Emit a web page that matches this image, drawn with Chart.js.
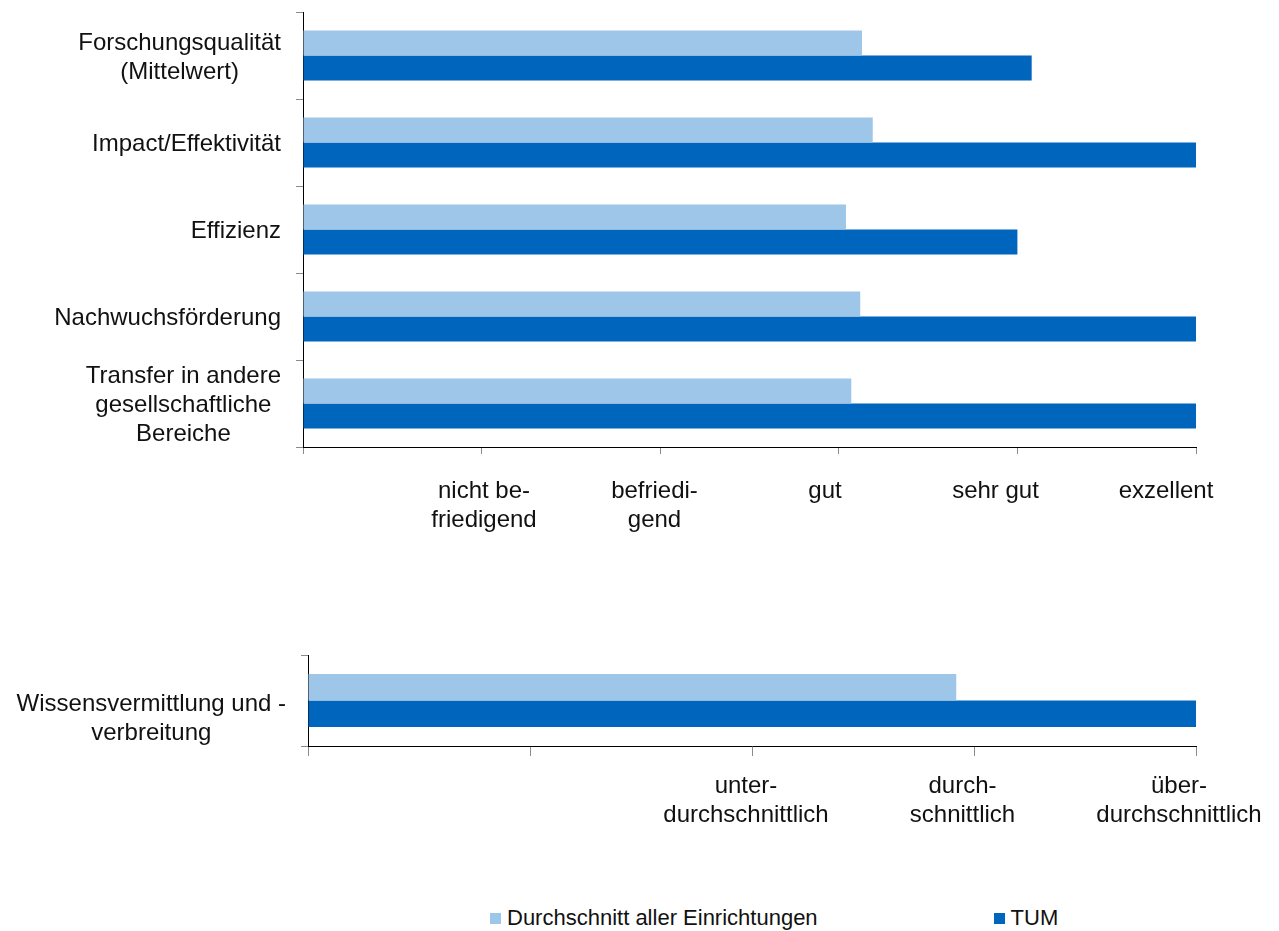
<!DOCTYPE html>
<html lang="de">
<head>
<meta charset="utf-8">
<title>Bewertung TUM</title>
<script src="https://cdn.jsdelivr.net/npm/chart.js@4/dist/chart.umd.min.js"></script>
<style>
  html, body { margin: 0; padding: 0; background: #fff; }
  body { width: 1279px; height: 931px; position: relative; overflow: hidden;
         font-family: "Liberation Sans", Arial, sans-serif; color: #111; }
  #ratingChart { position: absolute; left: 0; top: 0; }
  #transferChart { position: absolute; left: 0; top: 640px; }
  #legend { position: absolute; left: 490px; top: 907px; display: flex; gap: 176px; }
  .legend-item { display: flex; align-items: center; font-size: 22px; line-height: 22px; white-space: nowrap; }
  .legend-box { width: 11px; height: 11px; margin-right: 6px; flex: none; }
</style>
</head>
<body>
<canvas id="ratingChart" width="1279" height="560"></canvas>
<canvas id="transferChart" width="1279" height="210"></canvas>
<div id="legend"></div>
<script>
// Bewertungskriterien (multi-line labels as arrays)
const criteria = [
  ['Forschungsqualität', '(Mittelwert)'],
  'Impact/Effektivität',
  'Effizienz',
  'Nachwuchsförderung',
  ['Transfer in andere', 'gesellschaftliche', 'Bereiche']
];
// Notenskala 0..5
const ratingLabels = ['', ['nicht be-', 'friedigend'], ['befriedi-', 'gend'], 'gut', 'sehr gut', 'exzellent'];
const averageScores = [3.13, 3.19, 3.04, 3.12, 3.07];
const tumScores = [4.08, 5, 4, 5, 5];

// Wissensvermittlung, Skala 0..4
const transferCategory = [['Wissensvermittlung und -', 'verbreitung']];
const benchmarkLabels = ['', '', ['unter-', 'durchschnittlich'], ['durch-', 'schnittlich'], ['über-', 'durchschnittlich']];
const averageTransfer = [2.92];
const tumTransfer = [4];

const seriesNames = ['Durchschnitt aller Einrichtungen', 'TUM'];
const seriesColors = ['#9dc6e9', '#0065bd'];

Chart.defaults.font.family = '"Liberation Sans", Arial, sans-serif';
Chart.defaults.font.size = 24;
Chart.defaults.color = '#111';

const TEXT_FONT = { size: 24, lineHeight: 1.2 };
const TICK_GREY = '#8a8a8a';

// Multi-line category labels: lines centred on each other, block right-aligned to the axis
const centredTickLines = {
  id: 'centredTickLines',
  beforeDraw(chart) {
    const scale = chart.scales.y;
    const ctx = chart.ctx;
    scale.getLabelItems().forEach(item => {
      if (item._centred || !Array.isArray(item.label) || item.label.length < 2) return;
      ctx.save();
      ctx.font = item.font.string;
      const w = Math.max(...item.label.map(t => ctx.measureText(t).width));
      ctx.restore();
      item.options.textAlign = 'center';
      item.options.translation[0] -= w / 2;
      item._centred = true;
    });
  }
};

function makeDatasets(avg, tum, catPct) {
  return [avg, tum].map((values, i) => ({
    label: seriesNames[i],
    data: values,
    backgroundColor: seriesColors[i],
    borderWidth: 0,
    categoryPercentage: catPct,
    barPercentage: 1,
    xAxisID: 'x',
    yAxisID: 'y'
  }));
}

function baseOptions(cfg) {
  return {
    indexAxis: 'y',
    responsive: false,
    devicePixelRatio: 1,
    animation: false,
    events: [],
    layout: { padding: cfg.padding },
    plugins: { legend: { display: false }, tooltip: { enabled: false } },
    scales: {
      y: {
        type: 'category',
        grid: { drawOnChartArea: false, drawTicks: true, tickLength: 7, color: TICK_GREY, offset: true },
        border: { color: '#000', width: 1 },
        ticks: { padding: 15, font: TEXT_FONT, color: '#111', autoSkip: false, labelOffset: cfg.labelOffset },
        afterFit(s) { s.width = cfg.axisLeft; s.paddingTop = 0; s.paddingBottom = 0; }
      },
      x: {
        type: 'linear',
        position: 'bottom',
        min: 0,
        max: cfg.max,
        weight: 0,
        ticks: { display: false, stepSize: 1 },
        grid: { drawOnChartArea: false, drawTicks: true, tickLength: cfg.tickLength, color: TICK_GREY },
        border: { color: '#000', width: 1 }
      },
      xLabels: {
        type: 'linear',
        axis: 'x',
        position: 'bottom',
        bounds: 'data',
        min: cfg.labelMin,
        max: cfg.labelMax,
        weight: 1,
        grid: { display: false, drawTicks: false, tickLength: 0 },
        border: { display: false },
        ticks: {
          padding: cfg.labelPadding,
          font: TEXT_FONT,
          color: '#111',
          autoSkip: false,
          maxRotation: 0,
          minRotation: 0,
          callback: v => cfg.labels[v] ?? ''
        },
        afterBuildTicks(s) { s.ticks = cfg.labels.map((_, i) => ({ value: i })); },
        afterFit(s) { s.paddingLeft = 0; s.paddingRight = 0; }
      }
    }
  };
}

new Chart(document.getElementById('ratingChart'), {
  type: 'bar',
  data: { labels: criteria, datasets: makeDatasets(averageScores, tumScores, 0.575) },
  options: baseOptions({
    padding: { top: 12, right: 83, bottom: 2.4, left: 0 },
    axisLeft: 303,
    max: 5,
    tickLength: 7,
    labelMin: -0.0616,
    labelMax: 5.176,
    labelPadding: 23,
    labelOffset: 2,
    labels: ratingLabels
  }),
  plugins: [centredTickLines]
});

new Chart(document.getElementById('transferChart'), {
  type: 'bar',
  data: { labels: transferCategory, datasets: makeDatasets(averageTransfer, tumTransfer, 0.58) },
  options: baseOptions({
    padding: { top: 15, right: 83, bottom: 4.4, left: 0 },
    axisLeft: 308,
    max: 4,
    tickLength: 10,
    labelMin: -0.0231,
    labelMax: 4.0785,
    labelPadding: 16,
    labelOffset: 18,
    labels: benchmarkLabels
  }),
  plugins: [centredTickLines]
});

// Legend from the series definitions
const legend = document.getElementById('legend');
seriesNames.forEach((name, i) => {
  const item = document.createElement('div');
  item.className = 'legend-item';
  const box = document.createElement('span');
  box.className = 'legend-box';
  box.style.background = seriesColors[i];
  const text = document.createElement('span');
  text.textContent = name;
  item.appendChild(box);
  item.appendChild(text);
  legend.appendChild(item);
});
</script>
</body>
</html>
